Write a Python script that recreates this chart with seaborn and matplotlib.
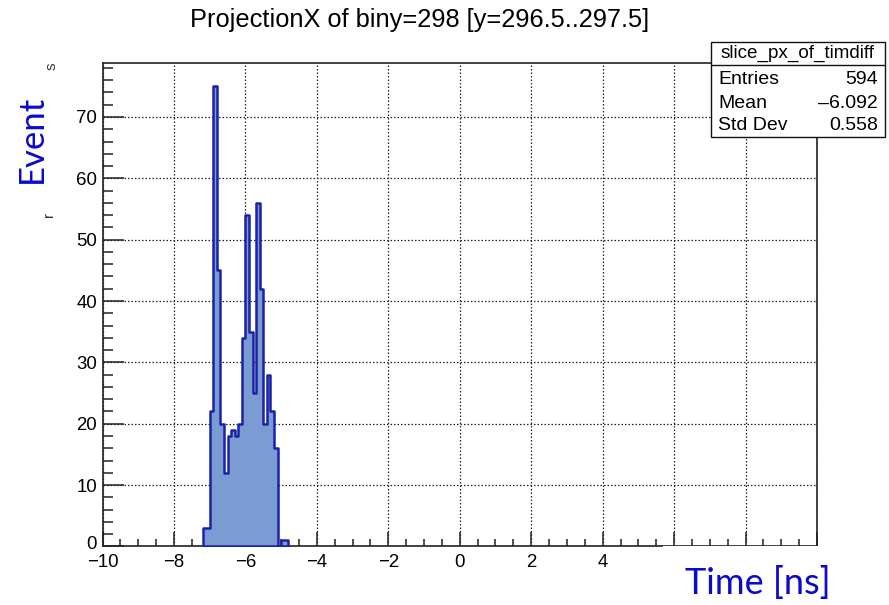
import numpy as np
import pandas as pd
import matplotlib
matplotlib.use("Agg")
import matplotlib.pyplot as plt
from matplotlib.patches import Rectangle
from matplotlib.lines import Line2D
from matplotlib.ticker import MultipleLocator, FixedLocator
from matplotlib.transforms import ScaledTranslation
import seaborn as sns

# ---------------- data ----------------
title = "ProjectionX of biny=298 [y=296.5..297.5]"
x_label = "Time [ns]"
y_label = "Event"
bin_centers = [-7.15, -7.05, -6.95, -6.85, -6.75, -6.65, -6.55, -6.45,
               -6.35, -6.25, -6.15, -6.05, -5.95, -5.85, -5.75, -5.65,
               -5.55, -5.45, -5.35, -5.25, -5.15, -5.05, -4.95, -4.85]
counts = [3, 3, 22, 75, 45, 20, 12, 18,
          19, 18, 20, 34, 54, 35, 25, 56,
          42, 20, 28, 22, 16, 0, 1, 1]
bin_width = 0.1
x_ticks = [-10, -8, -6, -4, -2, 0, 2, 4, 6, 8, 10]
# labels 6, 8, 10 are hidden under the pasted axis title in the original
x_tick_labels = ["\u221210", "\u22128", "\u22126", "\u22124", "\u22122", "0", "2", "4", "", "", ""]
y_ticks = [0, 10, 20, 30, 40, 50, 60, 70]
stats_name = "slice_px_of_timdiff"
stats_labels = ["Entries", "Mean", "Std Dev"]
stats_values = ["594", "\u20136.092", "0.558"]

# ---------------- figure ----------------
W, H = 889, 605
sns.set_style("white")
plt.rcParams["font.family"] = ["Liberation Sans", "DejaVu Sans"]

fig = plt.figure(figsize=(W / 100, H / 100), dpi=100)
fig.patch.set_facecolor("white")

def fx(px):
    return px / W

def fy(py):
    return 1 - py / H

ax_l, ax_r, ax_t, ax_b = 102.5, 817.0, 63.3, 546.4
ax = fig.add_axes([fx(ax_l), fy(ax_b), fx(ax_r) - fx(ax_l), fy(ax_t) - fy(ax_b)])

df = pd.DataFrame({"time": bin_centers, "count": counts})
edges = [c - bin_width / 2 for c in bin_centers] + [bin_centers[-1] + bin_width / 2]
sns.histplot(data=df, x="time", weights="count", bins=edges, element="step",
             fill=True, color="#7b9bd3", edgecolor="#1c22a6", linewidth=1.8,
             alpha=1.0, ax=ax, zorder=3)

ax.set_xlim(-10, 10)
ax.set_ylim(0, 78.75)
ax.set_xlabel("")
ax.set_ylabel("")

ax.xaxis.set_major_locator(FixedLocator(x_ticks))
ax.xaxis.set_minor_locator(MultipleLocator(0.5))
ax.yaxis.set_major_locator(FixedLocator(y_ticks))
ax.yaxis.set_minor_locator(MultipleLocator(2))

ax.tick_params(axis="x", which="both", bottom=True, top=False)
ax.tick_params(axis="y", which="both", left=True, right=False)
ax.tick_params(axis="x", which="major", direction="in", length=10.4, width=1.1,
               labelsize=13.4, pad=5.5, color="#222222", labelcolor="#000000")
ax.tick_params(axis="x", which="minor", direction="in", length=5.2, width=1.1,
               color="#222222")
ax.tick_params(axis="y", which="major", direction="in", length=15, width=1.1,
               labelsize=13.4, pad=4, color="#222222", labelcolor="#000000")
ax.tick_params(axis="y", which="minor", direction="in", length=7.5, width=1.1,
               color="#222222")
ax.set_xticklabels(x_tick_labels)
ax.set_yticklabels([str(t) for t in y_ticks])

# nudge the y "0" label up slightly so it does not collide with "-10"
lab0 = ax.get_yticklabels()[0]
lab0.set_transform(lab0.get_transform() + ScaledTranslation(0, 2.5 / 72, fig.dpi_scale_trans))

ax.grid(True, which="major", color="#222222", linestyle=(0, (1.2, 1.6)),
        linewidth=0.9)
ax.set_axisbelow(True)
for s in ax.spines.values():
    s.set_color("#222222")
    s.set_linewidth(1.2)
    s.set_visible(True)

# title
fig.text(fx(420), fy(20), title, ha="center", va="center", fontsize=18.3,
         color="#000000")

# stats box
bx0, bx1, by0, by1 = 711, 885, 42.3, 136.7
fig.patches.append(Rectangle((fx(bx0), fy(by1)), fx(bx1) - fx(bx0), fy(by0) - fy(by1),
                             transform=fig.transFigure, facecolor="white",
                             edgecolor="#111111", linewidth=1.0, zorder=10))
fig.lines.append(Line2D([fx(bx0), fx(bx1)], [fy(65), fy(65)],
                        transform=fig.transFigure, color="#111111",
                        linewidth=1.0, zorder=11))
fig.text(fx((bx0 + bx1) / 2), fy(53.5), stats_name, ha="center", va="center",
         fontsize=13.6, color="#000000", zorder=12)
for yy, lab, val in zip([79, 103, 126], stats_labels, stats_values):
    fig.text(fx(718), fy(yy), lab, ha="left", va="center", fontsize=14,
             color="#000000", zorder=12)
    fig.text(fx(878), fy(yy), val, ha="right", va="center", fontsize=14,
             color="#000000", zorder=12)

# white cover behind the overlaid x label
fig.patches.append(Rectangle((fx(663), 0), 1 - fx(663), fy(545.6),
                             transform=fig.transFigure, facecolor="white",
                             edgecolor="none", zorder=20))

lab_font = ["Lato", "DejaVu Sans"]
fig.text(fx(685), fy(583), x_label, ha="left", va="center", fontsize=26,
         color="#0a0acc", family=lab_font, zorder=21)
fig.text(fx(32), fy(139), y_label, ha="center", va="center", rotation=90,
         fontsize=25, color="#0a0acc", family=lab_font, zorder=21)

# remnants of an older axis title
fig.text(fx(52), fy(66), "s", ha="center", va="center", rotation=90,
         fontsize=11, color="#333333")
fig.text(fx(49), fy(214), "r", ha="center", va="center", rotation=90,
         fontsize=11, color="#333333")

fig.savefig("out.png", dpi=100, facecolor="white")
